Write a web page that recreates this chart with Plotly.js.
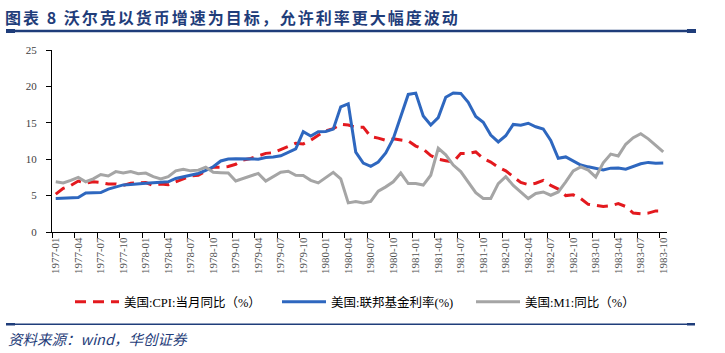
<!DOCTYPE html>
<html>
<head>
<meta charset="utf-8">
<script src="https://cdn.plot.ly/plotly-3.0.1.min.js"></script>
<style>
html,body{margin:0;padding:0;background:#fff;}
#chart{width:725px;height:353px;}
.gtitle{letter-spacing:2px;}
</style>
</head>
<body>
<div id="chart"></div>
<script>
// Months (categories)
const months = [
"1977-01","1977-02","1977-03","1977-04","1977-05","1977-06","1977-07","1977-08","1977-09","1977-10","1977-11","1977-12",
"1978-01","1978-02","1978-03","1978-04","1978-05","1978-06","1978-07","1978-08","1978-09","1978-10","1978-11","1978-12",
"1979-01","1979-02","1979-03","1979-04","1979-05","1979-06","1979-07","1979-08","1979-09","1979-10","1979-11","1979-12",
"1980-01","1980-02","1980-03","1980-04","1980-05","1980-06","1980-07","1980-08","1980-09","1980-10","1980-11","1980-12",
"1981-01","1981-02","1981-03","1981-04","1981-05","1981-06","1981-07","1981-08","1981-09","1981-10","1981-11","1981-12",
"1982-01","1982-02","1982-03","1982-04","1982-05","1982-06","1982-07","1982-08","1982-09","1982-10","1982-11","1982-12",
"1983-01","1983-02","1983-03","1983-04","1983-05","1983-06","1983-07","1983-08","1983-09","1983-10"
];

// US CPI YoY (%)
const cpi = [
5.2,6.0,6.4,7.0,6.7,6.9,6.8,6.6,6.6,6.4,6.7,6.7,
6.8,6.4,6.6,6.5,6.9,7.4,7.7,7.8,8.3,8.9,8.9,9.0,
9.3,9.9,10.1,10.5,10.8,10.9,11.3,11.8,12.2,12.1,12.6,13.3,
13.9,14.2,14.8,14.7,14.4,14.4,13.1,12.9,12.6,12.8,12.6,12.5,
11.8,11.4,10.5,10.0,9.8,9.6,10.8,10.8,11.0,10.1,9.6,8.9,
8.4,7.6,6.8,6.5,6.7,7.1,6.4,5.9,5.0,5.1,4.6,3.8,
3.7,3.5,3.6,3.9,3.5,2.6,2.5,2.6,2.9,2.9
];

// US Federal funds rate (%)
const fedFunds = [
4.61,4.68,4.69,4.73,5.35,5.39,5.42,5.90,6.14,6.47,6.51,6.56,
6.70,6.78,6.79,6.89,7.36,7.60,7.81,8.04,8.45,8.96,9.76,10.03,
10.07,10.06,10.09,10.01,10.24,10.29,10.47,10.94,11.43,13.77,13.18,13.78,
13.82,14.13,17.19,17.61,10.98,9.47,9.03,9.61,10.87,12.81,15.85,18.90,
19.08,15.93,14.70,15.72,18.52,19.10,19.04,17.82,15.87,15.08,13.31,12.37,
13.22,14.78,14.68,14.94,14.45,14.15,12.59,10.12,10.31,9.71,9.20,8.95,
8.68,8.51,8.77,8.80,8.63,8.98,9.37,9.56,9.45,9.48
];

// US M1 YoY (%)
const m1 = [
6.9,6.75,7.1,7.5,6.9,7.3,7.9,7.7,8.3,8.1,8.3,8.0,
8.1,7.6,7.3,7.6,8.4,8.6,8.4,8.5,8.9,8.2,8.15,8.1,
7.0,7.35,7.6,8.05,7.0,7.65,8.2,8.35,7.8,7.75,7.1,6.75,
7.45,8.2,7.3,4.0,4.2,4.0,4.2,5.6,6.2,6.9,8.1,6.65,
6.65,6.45,7.8,11.5,10.6,9.2,8.3,6.9,5.4,4.6,4.6,6.65,
7.6,6.4,5.5,4.6,5.3,5.5,5.05,5.5,6.9,8.4,8.95,8.5,
7.55,9.5,10.7,10.45,12.05,12.95,13.5,12.8,11.9,11.0
];

const seriesNames = ["美国:CPI:当月同比（%）","美国:联邦基金利率(%)","美国:M1:同比（%）"];
const titleText = "图表 8 沃尔克以货币增速为目标，允许利率更大幅度波动";
const sourceText = "资料来源：wind，华创证券";

const navy = "#1F3D7A";
const serif = "Liberation Serif, 'Noto Sans CJK SC', serif";

const traces = [
  {x: months, y: cpi, name: seriesNames[0], type: "scatter", mode: "lines", legend: "legend",
   line: {color: "#E3191E", width: 3, dash: "11px,7px"}},
  {x: months, y: fedFunds, name: seriesNames[1], type: "scatter", mode: "lines", legend: "legend2",
   line: {color: "#2E67BF", width: 3}},
  {x: months, y: m1, name: seriesNames[2], type: "scatter", mode: "lines", legend: "legend3",
   line: {color: "#A5A5A5", width: 3}}
];

const L = 52, R = 58, T = 50, B = 121, W = 725, H = 353;
const pw = W - L - R, ph = H - T - B;
const px2x = p => (p - L) / pw;
const py2y = p => (H - B - p) / ph;

function legendAt(px) {
  return {orientation: "h", x: px2x(px), xanchor: "left", y: py2y(302), yanchor: "middle",
          itemwidth: 44,
          font: {family: serif, size: 12.5, color: "#000"}, bgcolor: "rgba(0,0,0,0)"};
}

const layout = {
  width: W, height: H,
  margin: {l: L, r: R, t: T, b: B, pad: 0},
  paper_bgcolor: "#fff", plot_bgcolor: "#fff",
  font: {family: serif, size: 11, color: "#000"},
  title: {text: "<b>" + titleText + "</b>", x: 5 / W, xref: "container", xanchor: "left",
          y: 1 - 18 / H, yref: "container", yanchor: "middle",
          font: {family: "'Noto Sans CJK SC', sans-serif", size: 16, color: navy}},
  xaxis: {type: "category", range: [-0.5, 81.5], tickmode: "linear", tick0: 0, dtick: 3,
          tickson: "boundaries", ticks: "outside", ticklen: 5, tickcolor: "#000", tickwidth: 1,
          tickangle: -90, showline: true, linecolor: "#000", linewidth: 1, showgrid: false,
          zeroline: false, tickfont: {family: serif, size: 11, color: "#505050"}},
  yaxis: {range: [0, 25], tickmode: "linear", tick0: 0, dtick: 5, ticks: "outside", ticklen: 5,
          tickcolor: "#000", tickwidth: 1, showline: true, linecolor: "#000", linewidth: 1,
          showgrid: false, zeroline: false, ticklabelstandoff: 7,
          tickfont: {family: serif, size: 11, color: "#404040"}},
  showlegend: true,
  legend: legendAt(70),
  legend2: legendAt(277),
  legend3: legendAt(471),
  shapes: [
    {type: "line", xref: "paper", yref: "paper", x0: px2x(6), x1: px2x(696), y0: py2y(31), y1: py2y(31),
     line: {color: navy, width: 2.5}},
    {type: "rect", xref: "paper", yref: "paper", x0: px2x(6), x1: px2x(15), y0: py2y(33), y1: py2y(29),
     fillcolor: navy, line: {width: 0}},
    {type: "rect", xref: "paper", yref: "paper", x0: px2x(687), x1: px2x(696), y0: py2y(33), y1: py2y(29),
     fillcolor: navy, line: {width: 0}},
    {type: "line", xref: "paper", yref: "paper", x0: px2x(6), x1: px2x(695), y0: py2y(324.3), y1: py2y(324.3),
     line: {color: navy, width: 1.5}},
    {type: "rect", xref: "paper", yref: "paper", x0: px2x(6), x1: px2x(15), y0: py2y(325.5), y1: py2y(323),
     fillcolor: navy, line: {width: 0}},
    {type: "rect", xref: "paper", yref: "paper", x0: px2x(687), x1: px2x(695), y0: py2y(325.5), y1: py2y(323),
     fillcolor: navy, line: {width: 0}}
  ],
  annotations: [
    {text: "<i>" + sourceText + "</i>", xref: "paper", yref: "paper", x: px2x(6), y: py2y(338),
     xanchor: "left", yanchor: "middle", showarrow: false,
     font: {family: "'Noto Sans CJK SC', sans-serif", size: 14.5, color: navy}}
  ]
};

Plotly.newPlot("chart", traces, layout, {displayModeBar: false, staticPlot: true});
</script>
</body>
</html>
